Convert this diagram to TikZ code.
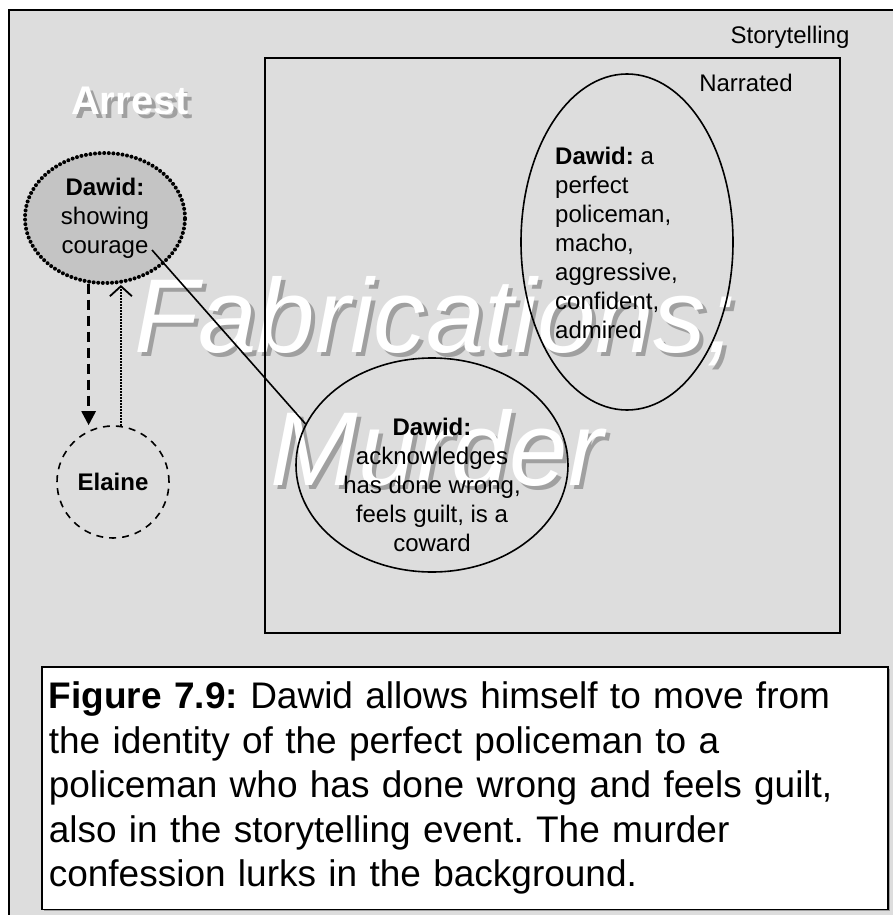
\documentclass[tikz,border=0pt]{standalone}
\usepackage{fontspec}
\setmainfont{Liberation Sans}
\usetikzlibrary{shapes.geometric,arrows.meta,shadows}
\definecolor{fondGris}{RGB}{221,221,221}
\definecolor{grisCourage}{RGB}{196,196,196}
\definecolor{ombre}{RGB}{160,160,160}
\frenchspacing

\begin{document}
\begin{tikzpicture}[x=1pt,y=-1pt,
    txt/.style={font=\fontsize{24}{29}\selectfont,inner sep=0pt},
    oval/.style={ellipse,draw,line width=1.6pt,inner sep=0pt},
    big/.style={font=\fontsize{105}{126}\selectfont\itshape,inner sep=0pt,anchor=base},
    bigbold/.style={font=\fontsize{40}{48}\selectfont\bfseries,inner sep=0pt,anchor=base}]
  \useasboundingbox (0,0) rectangle (893,915);
  \clip (0,0) rectangle (893,915);

  % Cadre : Storytelling
  \draw[line width=2.5pt,fill=fondGris] (9,10) rectangle (910,930);
  \node[txt] (storytelling) at (790,37) {Storytelling};

  % Titres en fond
  \node[big,ombre] at (439,356) {Fabrications;};
  \node[big,white] (fabrications) at (435,352) {Fabrications;};
  \node[big,ombre] at (441,489) {Murder};
  \node[big,white] (murder) at (437,485) {Murder};
  \node[bigbold,ombre] at (134,119) {Arrest};
  \node[bigbold,white] (arrest) at (130,115) {Arrest};

  % Cadre : Narrated
  \draw[line width=2pt] (265,58) rectangle (840,633);
  \node[txt] (narrated) at (746,83) {Narrated};

  % Arrest : Dawid et Elaine
  \node[oval,fill=grisCourage,minimum width=160pt,minimum height=130pt,
        line width=4pt,dash pattern=on 0pt off 4.6pt,line cap=round,
        txt,align=center] (courage) at (105,218)
        {\textbf{Dawid:}\\showing\\courage};
  \node[circle,draw,line width=1.6pt,dash pattern=on 7pt off 6pt,
        minimum size=112pt,inner sep=0pt,
        font=\fontsize{24}{29}\selectfont\bfseries] (elaine) at (113,482) {Elaine};
  \draw[line width=2.6pt,dash pattern=on 10pt off 6pt,
        -{Triangle[length=14pt,width=14pt]}]
    (courage.-104) -- (courage.-104 |- elaine.north);
  \draw[line width=2pt,densely dotted,
        -{Straight Barb[length=10pt,width=22pt,line width=1.8pt]}]
    (elaine.82) -- (elaine.82 |- courage.south);

  % Narrated : Dawid
  \node[oval,minimum width=212pt,minimum height=336pt] (policeman) at (627,242) {};
  \node[txt,align=left,anchor=west] (policeman text) at (555,243)
    {\textbf{Dawid:} a\\perfect\\policeman,\\macho,\\aggressive,\\confident,\\admired};
  \node[oval,minimum width=272pt,minimum height=214pt] (coward) at (432,465) {};
  \node[txt,align=center] (coward text) at (432,485)
    {\textbf{Dawid:}\\acknowledges\\has done wrong,\\feels guilt, is a\\coward};
  \coordinate (courage end) at (152,250);
  \draw[line width=1.6pt] (courage end) -- (coward.162);

  % Legende
  \node[draw,line width=1.6pt,fill=white,anchor=north west,
        minimum width=846pt,text width=832pt,inner xsep=7pt,inner ysep=15pt,
        align=left,font=\fontsize{37}{44.5}\selectfont,
        drop shadow={shadow xshift=2pt,shadow yshift=-2pt,fill=ombre,opacity=1}]
    (caption) at (41,666)
    {\textbf{Figure 7.9:} Dawid allows himself to move from\\
     the identity of the perfect policeman to a\\
     policeman who has done wrong and feels guilt,\\
     also in the storytelling event. The murder\\
     confession lurks in the background.};
\end{tikzpicture}
\end{document}
